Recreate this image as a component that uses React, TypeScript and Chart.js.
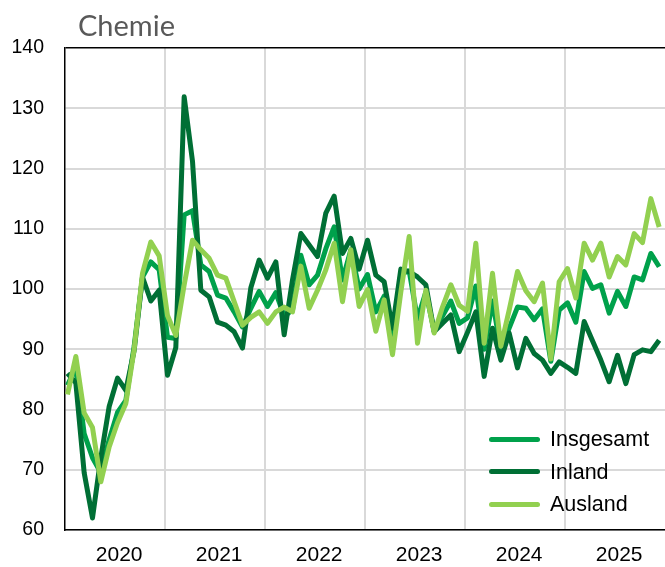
import React, { useEffect, useRef } from 'react';
import { Chart, registerables } from 'chart.js';

Chart.register(...registerables);

const years = ['2020', '2021', '2022', '2023', '2024', '2025'];
const seriesNames = ['Insgesamt', 'Inland', 'Ausland'];
const seriesColors = ['#00A14B', '#006F35', '#92D050'];

const insgesamt = [
  84, 87, 76, 72, 69.5, 75, 79.5, 81.5, 90.5, 102, 104.5, 103.2,
  92, 91.8, 112.3, 113, 104, 102.9, 99, 98.5, 96.2, 93.7, 96.8, 99.6,
  97.1, 99.4, 95.5, 96.5, 105.6, 100.7, 102.3, 106.7, 110.3, 101.5, 106.5, 100,
  102.4, 96.2, 98.8, 92.2, 102.5, 103, 95, 99.5, 93, 95.5, 98, 94.3,
  95.2, 100.5, 90, 98, 90, 93.5, 97, 96.8, 94.9, 96.7, 88, 96.5,
  97.7, 94.5, 102.9, 100.1, 100.7, 96, 99.6, 97.1, 102, 101.5, 105.9, 103.7,
];

const inland = [
  86, 84.4, 69.5, 62, 72, 80.5, 85.2, 83.2, 89.8, 102, 98, 99.8,
  85.7, 90.3, 131.9, 121.2, 99.8, 98.7, 94.5, 94, 92.9, 90.2, 100.2, 104.8,
  101.8, 104.5, 92.4, 101.5, 109.2, 107.3, 105.4, 112.6, 115.4, 105.9, 108.4, 103.3,
  108.1, 102.3, 101.2, 93.5, 103.3, 102.9, 102, 100.7, 92.9, 94.3, 95.7, 89.6,
  92.8, 96.2, 85.5, 93.5, 88.2, 92.7, 86.9, 91.8, 89.3, 88.2, 86, 87.9,
  87, 86, 94.6, 91.4, 88.2, 84.6, 89, 84.3, 89.1, 89.9, 89.6, 91.5,
];

const ausland = [
  82.5, 88.8, 79.4, 77, 68, 73.8, 77.8, 81, 90, 102.6, 107.8, 105.5,
  95.6, 92.3, 100.7, 108.1, 106.5, 105.1, 102.3, 101.8, 97.9, 94, 95.3, 96.2,
  94.3, 96.2, 97, 96.2, 103.8, 96.8, 99.8, 103.2, 107.6, 97.9, 106.5, 97.1,
  99.9, 93, 98.2, 89.1, 99.5, 108.7, 91, 99.8, 92.7, 97, 100.7, 97.3,
  96.3, 107.6, 91, 102.6, 90.5, 96.5, 102.9, 99.7, 97.9, 101, 88.4, 101.2,
  103.4, 98.5, 107.6, 104.8, 107.6, 102, 105.4, 104, 109.2, 107.7, 115, 110.3,
];

const FONT = "'Liberation Sans', Arial, sans-serif";

export default function App() {
  const ref = useRef<HTMLCanvasElement>(null);

  useEffect(() => {
    const values = [insgesamt, inland, ausland];
    const chart = new Chart(ref.current as HTMLCanvasElement, {
      type: 'line',
      data: {
        datasets: values.map((vals, k) => ({
          label: seriesNames[k],
          data: vals.map((v, i) => ({ x: i + 0.3, y: v })),
          borderColor: seriesColors[k],
          backgroundColor: seriesColors[k],
          borderWidth: 5,
          pointRadius: 0,
          tension: 0,
          borderJoinStyle: 'round',
          order: 2 - k,
        })),
      },
      options: {
        responsive: false,
        animation: false,
        layout: { padding: { left: 11, top: 48, right: 0, bottom: 0 } },
        plugins: { legend: { display: false }, tooltip: { enabled: false }, title: { display: false } },
        scales: {
          x: {
            type: 'linear',
            min: 0,
            max: years.length * 12,
            afterBuildTicks: (axis: any) => {
              const t: any[] = [];
              for (let k = 0; k <= years.length; k++) {
                t.push({ value: k * 12 });
                if (k < years.length) t.push({ value: k * 12 + 6.5 });
              }
              axis.ticks = t;
            },
            afterFit: (s: any) => {
              s.height = 37;
              s.paddingLeft = 0;
              s.paddingRight = 0;
            },
            grid: {
              color: (ctx: any) =>
                ctx.tick && ctx.tick.value % 12 === 0 && ctx.tick.value > 0 && ctx.tick.value < years.length * 12
                  ? '#D9D9D9'
                  : 'rgba(0,0,0,0)',
              lineWidth: 2,
              drawTicks: false,
            },
            border: { color: '#000', width: 1.5 },
            ticks: {
              autoSkip: false,
              maxRotation: 0,
              minRotation: 0,
              padding: 13,
              color: '#000',
              font: { family: FONT, size: 21 },
              callback: (v: any) => (Number(v) % 12 === 0 ? '' : years[Math.floor(Number(v) / 12)]),
            },
          },
          y: {
            min: 60,
            max: 140,
            afterFit: (s: any) => {
              s.width = 54;
            },
            ticks: {
              stepSize: 10,
              padding: 21,
              color: '#000',
              font: { family: FONT, size: 19.5 },
            },
            grid: {
              color: (ctx: any) => (ctx.tick && ctx.tick.value === 140 ? '#000' : '#D9D9D9'),
              lineWidth: (ctx: any) => (ctx.tick && ctx.tick.value === 140 ? 1.5 : 2),
              drawTicks: false,
            },
            border: { color: '#000', width: 1.5 },
          },
        },
      },
    });
    return () => chart.destroy();
  }, []);

  return (
    <div style={{ position: 'fixed', left: 0, top: 0, width: 665, height: 567, background: '#fff', overflow: 'hidden' }}>
      <canvas ref={ref} width={665} height={567} style={{ display: 'block' }} />
      <div
        style={{
          position: 'absolute',
          left: 78,
          top: 7,
          fontFamily: "Lato, 'Open Sans', sans-serif",
          fontSize: 29,
          lineHeight: '36px',
          color: '#595959',
          whiteSpace: 'nowrap',
        }}
      >
        Chemie
      </div>
      <div style={{ position: 'absolute', left: 489, top: 423 }}>
        {seriesNames.map((name, k) => (
          <div key={name} style={{ display: 'flex', alignItems: 'center', height: 32.5 }}>
            <span
              style={{
                display: 'inline-block',
                width: 51,
                height: 5,
                borderRadius: 2.5,
                background: seriesColors[k],
                marginRight: 10,
              }}
            />
            <span style={{ fontFamily: FONT, fontSize: 21.5, color: '#000', lineHeight: '24px' }}>{name}</span>
          </div>
        ))}
      </div>
    </div>
  );
}
